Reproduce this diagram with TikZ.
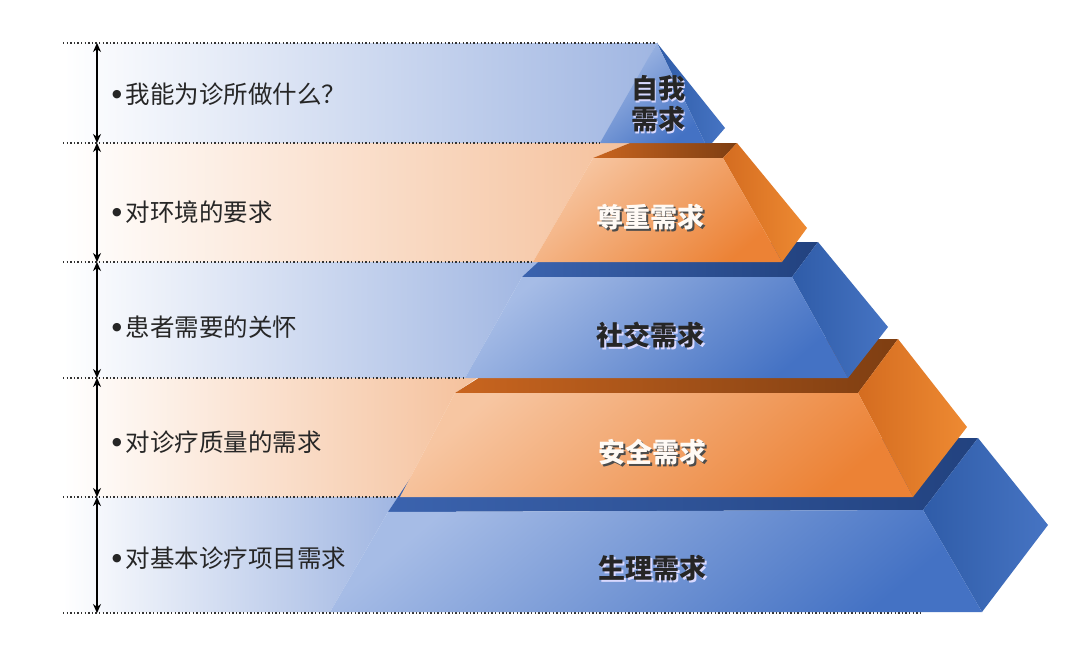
\documentclass[tikz,border=0pt]{standalone}
\usepackage{fontspec}
\setmainfont{Noto Sans CJK SC}
\newfontfamily\dejavu{DejaVu Sans}
\usetikzlibrary{arrows.meta}
\definecolor{bandblue}{HTML}{A0B6E2}
\definecolor{bandorange}{HTML}{F5C19C}
\definecolor{bfrontA}{HTML}{A6BCE6}
\definecolor{bfrontB}{HTML}{4472C4}
\definecolor{btopA}{HTML}{3B63AE}
\definecolor{btopB}{HTML}{22427F}
\definecolor{bsideA}{HTML}{2F5CA8}
\definecolor{bsideB}{HTML}{4674C3}
\definecolor{ofrontA}{HTML}{F7C6A2}
\definecolor{ofrontB}{HTML}{EC8235}
\definecolor{otopA}{HTML}{C9651F}
\definecolor{otopB}{HTML}{7E3E12}
\definecolor{osideA}{HTML}{D46C20}
\definecolor{osideB}{HTML}{EE8A32}
\definecolor{dotgray}{HTML}{333333}
\tikzset{
  bandB/.style={left color=white, middle color=white!45!bandblue, right color=bandblue, draw=none},
  bandO/.style={left color=white, middle color=white!50!bandorange, right color=bandorange, draw=none},
  bfront/.style={top color=bfrontA, bottom color=bfrontB, shading angle=40, draw=none},
  btop/.style={left color=btopA, right color=btopB, draw=none},
  bside/.style={left color=bsideA, right color=bsideB, draw=none},
  ofront/.style={top color=ofrontA, bottom color=ofrontB, shading angle=40, draw=none},
  otop/.style={left color=otopA, right color=otopB, draw=none},
  oside/.style={left color=osideA, right color=osideB, draw=none},
  dotline/.style={draw=dotgray, line width=1.6pt, dash pattern=on 1.4pt off 2.2pt},
  dimarrow/.style={draw=black, line width=1.4pt, {Stealth[length=9pt,width=8pt]}-{Stealth[length=9pt,width=8pt]}},
  sidelabel/.style={anchor=west, text=black!85, font=\fontsize{24.5}{28}\selectfont, inner sep=0pt},
  darklabel/.style={text=black!85, font=\fontsize{27}{31}\selectfont\bfseries, align=center, inner sep=0pt},
  darkshadow/.style={text=white!85!blue, font=\fontsize{27}{31}\selectfont\bfseries, align=center, inner sep=0pt},
  lightlabel/.style={text=white!96!orange, font=\fontsize{27}{31}\selectfont\bfseries, align=center, inner sep=0pt},
  lightshadow/.style={text=black!70, font=\fontsize{27}{31}\selectfont\bfseries, align=center, inner sep=0pt},
}
\newcommand{\bul}{\raisebox{5.5pt}{\dejavu\fontsize{11}{11}\selectfont ●}\hspace{4pt}}
\begin{document}
\begin{tikzpicture}[x=1pt,y=-1pt]
\useasboundingbox (0,0) rectangle (1080,653);
\fill[white] (0,0) rectangle (1080,653);

% ---- background bands ----
\shade[bandB] (63,43) -- (657,43) -- (603,143) -- (63,143) -- cycle;
\shade[bandO] (63,143) -- (630,143) -- (593,158) -- (533,262) -- (63,262) -- cycle;
\shade[bandB] (63,262) -- (540,262) -- (522,277) -- (465,378) -- (63,378) -- cycle;
\shade[bandO] (63,378) -- (477,378) -- (455,393) -- (400,497) -- (63,497) -- cycle;
\shade[bandB] (63,497) -- (398,497) -- (388,512) -- (330,612) -- (63,612) -- cycle;

% ---- dotted guide lines ----
\coordinate (d0l) at (63,43);   \coordinate (d0r) at (657,43);
\coordinate (d1l) at (63,143);  \coordinate (d1r) at (600,143);
\coordinate (d2l) at (63,262);  \coordinate (d2r) at (533,262);
\coordinate (d3l) at (63,378);  \coordinate (d3r) at (465,378);
\coordinate (d4l) at (63,497);  \coordinate (d4r) at (400,497);
\coordinate (d5l) at (63,613);  \coordinate (d5r) at (922,613);
\draw[dotline] (d0l) -- (d0r);
\draw[dotline] (d1l) -- (d1r);
\draw[dotline] (d2l) -- (d2r);
\draw[dotline] (d3l) -- (d3r);
\draw[dotline] (d4l) -- (d4r);
\draw[dotline] (d5l) -- (d5r);

% ---- layer 5 (blue, bottom) ----
\shade[btop] (388,512) -- (437,438) -- (978,438) -- (923,510) -- cycle;
\shade[bside] (978,438) -- (1048,525) -- (982,612) -- (923,510) -- cycle;
\shade[bfront] (388,512) -- (923,510) -- (982,612) -- (330,612) -- cycle;

% ---- layer 4 (orange) ----
\shade[otop] (455,393) -- (540,339) -- (898,339) -- (858,393) -- cycle;
\shade[oside] (898,339) -- (967,427) -- (913,497) -- (858,393) -- cycle;
\shade[ofront] (455,393) -- (858,393) -- (913,497) -- (400,497) -- cycle;

% ---- layer 3 (blue) ----
\shade[btop] (522,277) -- (560,242) -- (818,242) -- (792,277) -- cycle;
\shade[bside] (818,242) -- (888,327) -- (848,378) -- (792,277) -- cycle;
\shade[bfront] (522,277) -- (792,277) -- (848,378) -- (465,378) -- cycle;

% ---- layer 2 (orange) ----
\shade[otop] (593,158) -- (630,143) -- (737,143) -- (723,158) -- cycle;
\shade[oside] (737,143) -- (807,228) -- (782,262) -- (723,158) -- cycle;
\shade[ofront] (593,158) -- (723,158) -- (782,262) -- (533,262) -- cycle;

% ---- layer 1 (blue, top) ----
\shade[bside] (657,43) -- (725,128) -- (712,143) -- (705,143) -- cycle;
\shade[bfront] (657,43) -- (705,143) -- (600,143) -- cycle;

% ---- dimension arrows ----
\coordinate (a0) at (97,43);
\coordinate (a1) at (97,143);
\coordinate (a2) at (97,262);
\coordinate (a3) at (97,378);
\coordinate (a4) at (97,497);
\coordinate (a5) at (97,613);
\draw[dimarrow] (a0) -- (a1);
\draw[dimarrow] (a1) -- (a2);
\draw[dimarrow] (a2) -- (a3);
\draw[dimarrow] (a3) -- (a4);
\draw[dimarrow] (a4) -- (a5);

% ---- side labels ----
\node[sidelabel] (s1) at (112,94) {\bul 我能为诊所做什么？};
\node[sidelabel] (s2) at (112,212) {\bul 对环境的要求};
\node[sidelabel] (s3) at (112,327) {\bul 患者需要的关怀};
\node[sidelabel] (s4) at (112,442) {\bul 对诊疗质量的需求};
\node[sidelabel] (s5) at (112,558) {\bul 对基本诊疗项目需求};

% ---- layer labels ----
\node[darkshadow] (l1s) at (659.5,105.5) {自我\\需求};
\node[darklabel] (l1) at (658,104) {自我\\需求};
\node[lightshadow] (l2s) at (652,219) {尊重需求};
\node[lightlabel] (l2) at (650,217) {尊重需求};
\node[darkshadow] (l3s) at (652,337) {社交需求};
\node[darklabel] (l3) at (650,335) {社交需求};
\node[lightshadow] (l4s) at (654,454) {安全需求};
\node[lightlabel] (l4) at (652,452) {安全需求};
\node[darkshadow] (l5s) at (654,570) {生理需求};
\node[darklabel] (l5) at (652,568) {生理需求};
\end{tikzpicture}
\end{document}
